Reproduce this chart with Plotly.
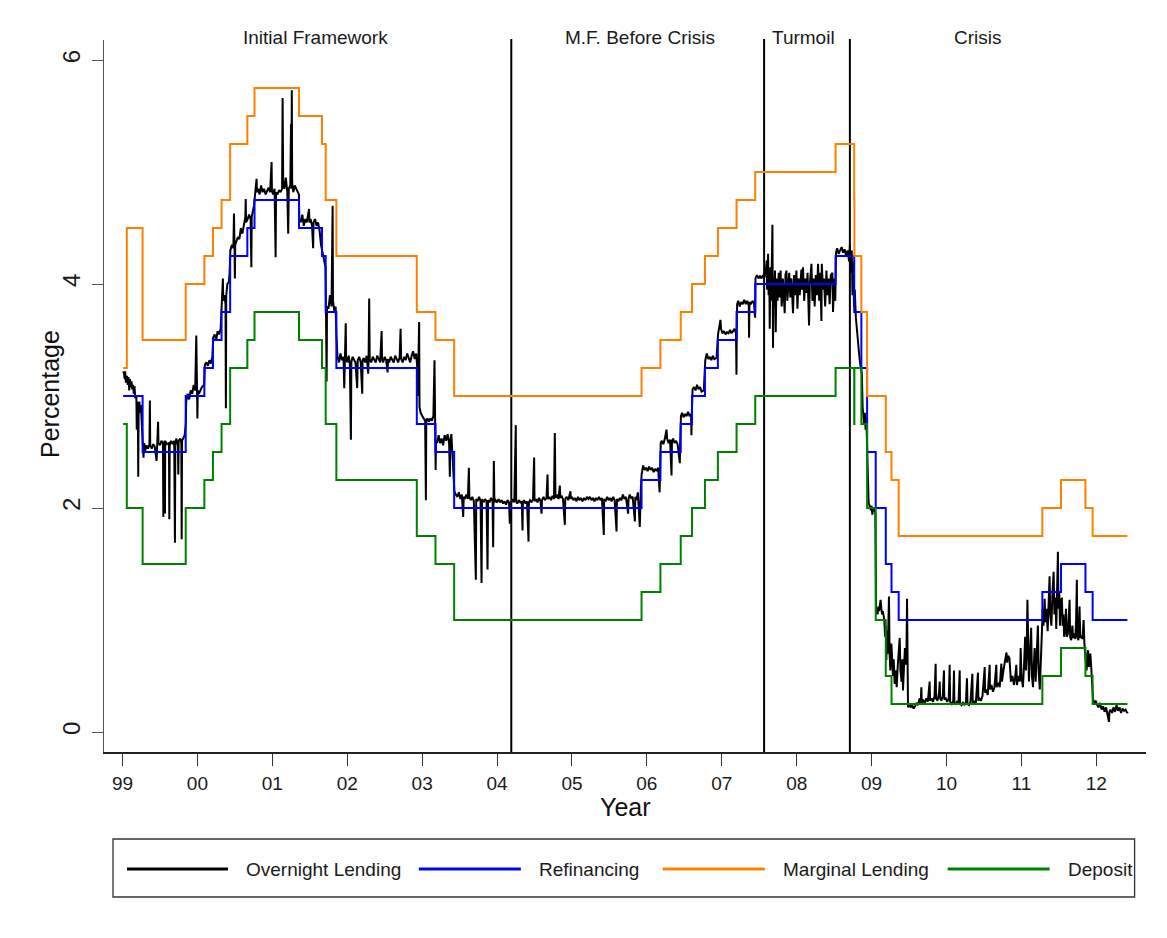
import datetime
import plotly.graph_objects as go

# ---------------- data ----------------
refi_dates = ["1999-01-04", "1999-04-09", "1999-11-05", "2000-02-04", "2000-03-17", "2000-04-28",
              "2000-06-09", "2000-09-01", "2000-10-06", "2001-05-11", "2001-08-31", "2001-09-18",
              "2001-11-09", "2002-12-06", "2003-03-07", "2003-06-06", "2005-12-06", "2006-03-08",
              "2006-06-15", "2006-08-09", "2006-10-11", "2006-12-13", "2007-03-14", "2007-06-13",
              "2008-07-09", "2008-10-08", "2008-11-12", "2008-12-10", "2009-01-21", "2009-03-11",
              "2009-04-08", "2009-05-13", "2011-04-13", "2011-07-13", "2011-11-09", "2011-12-14",
              "2012-06-01"]
refi_rate = [3.00, 2.50, 3.00, 3.25, 3.50, 3.75, 4.25, 4.50, 4.75, 4.50, 4.25, 3.75,
             3.25, 2.75, 2.50, 2.00, 2.25, 2.50, 2.75, 3.00, 3.25, 3.50, 3.75, 4.00,
             4.25, 3.75, 3.25, 2.50, 2.00, 1.50, 1.25, 1.00, 1.25, 1.50, 1.25, 1.00, 1.00]

marg_dates = ["1999-01-04", "1999-01-22", "1999-04-09", "1999-11-05", "2000-02-04", "2000-03-17",
              "2000-04-28", "2000-06-09", "2000-09-01", "2000-10-06", "2001-05-11", "2001-08-31",
              "2001-09-18", "2001-11-09", "2002-12-06", "2003-03-07", "2003-06-06", "2005-12-06",
              "2006-03-08", "2006-06-15", "2006-08-09", "2006-10-11", "2006-12-13", "2007-03-14",
              "2007-06-13", "2008-07-09", "2008-10-08", "2008-10-09", "2008-11-12", "2008-12-10",
              "2009-03-11", "2009-04-08", "2009-05-13", "2011-04-13", "2011-07-13", "2011-11-09",
              "2011-12-14", "2012-06-01"]
marg_rate = [3.25, 4.50, 3.50, 4.00, 4.25, 4.50, 4.75, 5.25, 5.50, 5.75, 5.50, 5.25,
             4.75, 4.25, 3.75, 3.50, 3.00, 3.25, 3.50, 3.75, 4.00, 4.25, 4.50, 4.75,
             5.00, 5.25, 4.75, 4.25, 3.75, 3.00, 2.50, 2.25, 1.75, 2.00, 2.25, 2.00,
             1.75, 1.75]

dep_dates = ["1999-01-04", "1999-01-22", "1999-04-09", "1999-11-05", "2000-02-04", "2000-03-17",
             "2000-04-28", "2000-06-09", "2000-09-01", "2000-10-06", "2001-05-11", "2001-08-31",
             "2001-09-18", "2001-11-09", "2002-12-06", "2003-03-07", "2003-06-06", "2005-12-06",
             "2006-03-08", "2006-06-15", "2006-08-09", "2006-10-11", "2006-12-13", "2007-03-14",
             "2007-06-13", "2008-07-09", "2008-10-08", "2008-10-09", "2008-11-12", "2008-12-10",
             "2009-01-21", "2009-03-11", "2009-04-08", "2011-04-13", "2011-07-13", "2011-11-09",
             "2011-12-14", "2012-06-01"]
dep_rate = [2.75, 2.00, 1.50, 2.00, 2.25, 2.50, 2.75, 3.25, 3.50, 3.75, 3.50, 3.25,
            2.75, 2.25, 1.75, 1.50, 1.00, 1.25, 1.50, 1.75, 2.00, 2.25, 2.50, 2.75,
            3.00, 3.25, 2.75, 3.25, 2.75, 2.00, 1.00, 0.50, 0.25, 0.50, 0.75, 0.50,
            0.25, 0.25]

# overnight rate (year fraction, %)
overnight_1999_2000 = [
    (1999.01, 3.22), (1999.02, 3.20), (1999.03, 3.15), (1999.035, 3.22), (1999.045, 3.12), (1999.06, 3.18),
    (1999.07, 3.10), (1999.08, 3.17), (1999.09, 3.05), (1999.10, 3.15), (1999.11, 3.08), (1999.12, 3.13),
    (1999.13, 3.06), (1999.14, 3.10), (1999.15, 3.02), (1999.16, 3.09), (1999.17, 2.98), (1999.185, 3.00),
    (1999.19, 2.70), (1999.195, 2.95), (1999.205, 2.90), (1999.21, 2.28), (1999.215, 2.85), (1999.225, 2.95),
    (1999.235, 2.85), (1999.245, 2.92), (1999.26, 2.75), (1999.275, 2.55), (1999.28, 2.45), (1999.29, 2.58),
    (1999.30, 2.50), (1999.32, 2.56), (1999.34, 2.53), (1999.36, 2.57), (1999.365, 2.96), (1999.37, 2.56),
    (1999.39, 2.53), (1999.41, 2.57), (1999.43, 2.55), (1999.455, 2.42), (1999.46, 2.56), (1999.475, 2.77),
    (1999.48, 2.58), (1999.50, 2.56), (1999.52, 2.60), (1999.54, 2.58), (1999.545, 1.92), (1999.55, 2.57),
    (1999.565, 2.60), (1999.567, 1.95), (1999.57, 2.60), (1999.59, 2.57), (1999.62, 2.58), (1999.625, 1.90),
    (1999.63, 2.56), (1999.65, 2.60), (1999.67, 2.57), (1999.69, 2.60), (1999.70, 1.69), (1999.705, 2.58),
    (1999.72, 2.62), (1999.74, 2.55), (1999.745, 2.30), (1999.75, 2.60), (1999.77, 2.62), (1999.785, 2.58),
    (1999.79, 1.72), (1999.795, 2.60), (1999.81, 2.62), (1999.83, 2.65), (1999.845, 2.75), (1999.85, 2.95),
    (1999.87, 3.02), (1999.89, 2.97), (1999.91, 3.05), (1999.93, 3.02), (1999.95, 3.10), (1999.97, 3.05),
    (1999.985, 3.54), (1999.99, 3.05), (2000.00, 2.80), (2000.005, 3.05), (2000.02, 3.02), (2000.04, 3.05),
    (2000.06, 3.08), (2000.09, 3.10), (2000.10, 3.28), (2000.12, 3.30), (2000.14, 3.27), (2000.16, 3.32),
    (2000.18, 3.29), (2000.20, 3.35), (2000.21, 3.52), (2000.23, 3.55), (2000.25, 3.50), (2000.27, 3.58),
    (2000.29, 3.55), (2000.31, 3.60), (2000.325, 3.80), (2000.34, 4.05), (2000.345, 3.85), (2000.36, 3.90),
    (2000.375, 3.82), (2000.38, 2.89), (2000.385, 3.90), (2000.40, 4.00), (2000.42, 4.02), (2000.43, 4.10),
    (2000.44, 4.30), (2000.46, 4.35), (2000.48, 4.32), (2000.488, 4.63), (2000.495, 4.35), (2000.50, 4.05),
    (2000.505, 4.35), (2000.52, 4.38), (2000.54, 4.42), (2000.56, 4.40), (2000.58, 4.50), (2000.60, 4.45),
    (2000.62, 4.55), (2000.64, 4.60), (2000.645, 4.76), (2000.65, 4.55), (2000.67, 4.58), (2000.69, 4.62),
    (2000.71, 4.58), (2000.72, 4.15), (2000.725, 4.60), (2000.74, 4.65), (2000.755, 4.70), (2000.77, 4.80),
    (2000.78, 4.85), (2000.79, 4.94), (2000.795, 4.82), (2000.81, 4.85), (2000.83, 4.80), (2000.85, 4.88),
    (2000.87, 4.82), (2000.89, 4.85), (2000.91, 4.80), (2000.93, 4.83), (2000.95, 4.86), (2000.97, 4.82),
    (2000.99, 5.09), (2000.995, 4.83),
]
overnight_2001_2003 = [
    (2001.01, 4.80), (2001.03, 4.85), (2001.044, 4.24), (2001.05, 4.82), (2001.07, 4.80), (2001.09, 4.84),
    (2001.11, 4.82), (2001.13, 4.85), (2001.137, 5.66), (2001.145, 4.90), (2001.16, 4.85), (2001.18, 4.95),
    (2001.20, 4.82), (2001.212, 4.45), (2001.22, 4.85), (2001.24, 4.88), (2001.25, 5.43), (2001.255, 4.85),
    (2001.26, 5.73), (2001.265, 4.90), (2001.28, 4.82), (2001.30, 4.88), (2001.32, 4.85), (2001.34, 4.82),
    (2001.355, 4.80), (2001.36, 4.58), (2001.38, 4.55), (2001.40, 4.62), (2001.42, 4.52), (2001.44, 4.58),
    (2001.46, 4.55), (2001.49, 4.67), (2001.495, 4.55), (2001.51, 4.58), (2001.53, 4.52), (2001.545, 4.32),
    (2001.55, 4.55), (2001.57, 4.58), (2001.59, 4.52), (2001.61, 4.55), (2001.63, 4.48), (2001.65, 4.35),
    (2001.67, 4.28), (2001.69, 4.22), (2001.71, 4.15), (2001.715, 3.85), (2001.725, 3.13), (2001.73, 3.80),
    (2001.75, 3.78), (2001.77, 3.90), (2001.79, 3.80), (2001.805, 4.70), (2001.81, 3.85), (2001.83, 3.75),
    (2001.845, 3.80), (2001.855, 3.55), (2001.87, 3.35), (2001.89, 3.30), (2001.91, 3.38), (2001.93, 3.32),
    (2001.95, 3.35), (2001.96, 3.07), (2001.965, 3.33), (2001.98, 3.65), (2001.985, 3.35), (2002.00, 3.30),
    (2002.02, 3.36), (2002.035, 3.28), (2002.049, 2.61), (2002.055, 3.30), (2002.07, 3.35), (2002.09, 3.32),
    (2002.11, 3.30), (2002.133, 3.07), (2002.14, 3.32), (2002.16, 3.35), (2002.18, 3.30), (2002.20, 3.02),
    (2002.205, 3.32), (2002.22, 3.34), (2002.24, 3.30), (2002.26, 3.36), (2002.28, 3.20), (2002.285, 3.32),
    (2002.293, 3.87), (2002.30, 3.33), (2002.32, 3.30), (2002.34, 3.35), (2002.36, 3.32), (2002.38, 3.30),
    (2002.40, 3.36), (2002.42, 3.32), (2002.44, 3.30), (2002.459, 3.58), (2002.465, 3.33), (2002.48, 3.30),
    (2002.50, 3.35), (2002.52, 3.32), (2002.539, 3.21), (2002.545, 3.33), (2002.56, 3.30), (2002.58, 3.35),
    (2002.60, 3.32), (2002.62, 3.30), (2002.64, 3.36), (2002.66, 3.33), (2002.68, 3.30), (2002.70, 3.35),
    (2002.712, 3.60), (2002.72, 3.33), (2002.74, 3.30), (2002.76, 3.35), (2002.78, 3.32), (2002.80, 3.38),
    (2002.82, 3.33), (2002.84, 3.30), (2002.86, 3.36), (2002.88, 3.40), (2002.90, 3.33), (2002.92, 3.38),
    (2002.935, 3.25), (2002.94, 3.00), (2002.96, 3.66), (2002.965, 2.90), (2002.98, 2.85), (2003.00, 2.82),
    (2003.02, 2.80), (2003.04, 2.78), (2003.05, 2.07), (2003.055, 2.78), (2003.07, 2.80), (2003.09, 2.77),
    (2003.11, 2.80), (2003.13, 2.78), (2003.15, 2.82), (2003.165, 3.32), (2003.17, 2.70), (2003.18, 2.34),
    (2003.185, 2.60), (2003.20, 2.58), (2003.22, 2.65), (2003.24, 2.58), (2003.26, 2.62), (2003.28, 2.56),
    (2003.30, 2.65), (2003.32, 2.60), (2003.34, 2.66), (2003.36, 2.58), (2003.37, 2.28), (2003.375, 2.60),
    (2003.39, 2.66), (2003.40, 2.55), (2003.41, 2.40), (2003.43, 2.15), (2003.45, 2.12), (2003.47, 2.10),
    (2003.49, 2.14), (2003.51, 2.08), (2003.53, 2.12), (2003.548, 1.92), (2003.555, 2.10), (2003.57, 2.08),
    (2003.59, 2.12), (2003.61, 2.08), (2003.624, 2.36), (2003.63, 2.10), (2003.65, 2.07), (2003.67, 2.10),
    (2003.69, 2.06), (2003.717, 1.36), (2003.722, 2.08), (2003.74, 2.06), (2003.76, 2.10), (2003.78, 2.06),
    (2003.793, 1.33), (2003.80, 2.08), (2003.82, 2.05), (2003.84, 2.08), (2003.86, 2.06), (2003.873, 1.45),
    (2003.88, 2.07), (2003.90, 2.05), (2003.92, 2.09), (2003.94, 2.06), (2003.948, 1.65), (2003.955, 2.06),
    (2003.957, 2.42), (2003.965, 2.05), (2003.98, 2.07),
]
overnight_2004_2007 = [
    (2004.00, 2.05), (2004.02, 2.08), (2004.04, 2.05), (2004.06, 2.07), (2004.08, 2.04), (2004.10, 2.06),
    (2004.12, 2.03), (2004.14, 2.07), (2004.16, 2.05), (2004.17, 1.86), (2004.175, 2.04), (2004.19, 2.05),
    (2004.21, 2.08), (2004.23, 2.05), (2004.25, 2.74), (2004.255, 2.06), (2004.27, 2.04), (2004.29, 2.07),
    (2004.31, 2.05), (2004.33, 2.06), (2004.34, 1.80), (2004.345, 2.05), (2004.36, 2.07), (2004.38, 2.04),
    (2004.40, 2.06), (2004.42, 1.70), (2004.425, 2.05), (2004.44, 2.07), (2004.46, 2.05), (2004.48, 2.08),
    (2004.495, 2.45), (2004.50, 2.06), (2004.52, 2.08), (2004.54, 2.05), (2004.56, 2.09), (2004.58, 2.06),
    (2004.594, 1.95), (2004.60, 2.07), (2004.62, 2.10), (2004.64, 2.07), (2004.66, 2.09), (2004.674, 2.30),
    (2004.68, 2.08), (2004.70, 2.10), (2004.72, 2.07), (2004.74, 2.11), (2004.76, 2.08), (2004.771, 2.67),
    (2004.78, 2.09), (2004.80, 2.12), (2004.82, 2.08), (2004.838, 2.20), (2004.845, 2.09), (2004.86, 2.11),
    (2004.88, 2.08), (2004.905, 1.85), (2004.91, 2.08), (2004.93, 2.10), (2004.95, 2.07), (2004.98, 2.15),
    (2004.985, 2.08), (2005.00, 2.10), (2005.02, 2.07), (2005.04, 2.09), (2005.06, 2.06), (2005.08, 2.10),
    (2005.10, 2.07), (2005.12, 2.09), (2005.14, 2.06), (2005.16, 2.09), (2005.18, 2.07), (2005.20, 2.10),
    (2005.22, 2.08), (2005.24, 2.10), (2005.26, 2.07), (2005.28, 2.09), (2005.30, 2.06), (2005.32, 2.09),
    (2005.34, 2.07), (2005.36, 2.10), (2005.38, 2.07), (2005.40, 2.09), (2005.425, 1.76), (2005.43, 2.08),
    (2005.45, 2.06), (2005.47, 2.10), (2005.49, 2.07), (2005.51, 2.09), (2005.53, 2.06), (2005.55, 2.10),
    (2005.57, 2.07), (2005.595, 1.79), (2005.60, 2.08), (2005.62, 2.06), (2005.64, 2.09), (2005.66, 2.07),
    (2005.68, 2.12), (2005.70, 2.08), (2005.72, 2.10), (2005.75, 1.95), (2005.755, 2.08), (2005.77, 2.12),
    (2005.79, 2.09), (2005.81, 2.10), (2005.84, 1.88), (2005.845, 2.10), (2005.86, 2.07), (2005.88, 2.14),
    (2005.905, 1.83), (2005.91, 2.10), (2005.92, 2.18), (2005.93, 2.30), (2005.95, 2.38), (2005.97, 2.34),
    (2005.99, 2.36), (2006.01, 2.33), (2006.03, 2.37), (2006.05, 2.34), (2006.07, 2.36), (2006.09, 2.32),
    (2006.11, 2.35), (2006.13, 2.33), (2006.15, 2.36), (2006.17, 2.14), (2006.175, 2.34), (2006.185, 2.58),
    (2006.20, 2.60), (2006.22, 2.57), (2006.24, 2.62), (2006.262, 2.70), (2006.27, 2.62), (2006.29, 2.58),
    (2006.31, 2.61), (2006.329, 2.29), (2006.335, 2.60), (2006.35, 2.62), (2006.37, 2.58), (2006.39, 2.60),
    (2006.41, 2.57), (2006.44, 2.40), (2006.445, 2.60), (2006.455, 2.82), (2006.47, 2.85), (2006.49, 2.81),
    (2006.51, 2.84), (2006.53, 2.82), (2006.55, 2.86), (2006.57, 2.82), (2006.59, 2.84), (2006.595, 2.65),
    (2006.60, 2.84), (2006.61, 3.06), (2006.63, 3.08), (2006.65, 3.05), (2006.67, 3.10), (2006.69, 3.06),
    (2006.71, 3.08), (2006.73, 3.04), (2006.76, 3.05), (2006.78, 3.32), (2006.80, 3.38), (2006.82, 3.33),
    (2006.84, 3.35), (2006.86, 3.32), (2006.88, 3.36), (2006.90, 3.33), (2006.93, 3.34), (2006.95, 3.55),
    (2006.965, 3.60), (2006.982, 3.68), (2006.99, 3.60), (2007.01, 3.56), (2007.03, 3.58), (2007.05, 3.55),
    (2007.07, 3.57), (2007.09, 3.56), (2007.11, 3.59), (2007.13, 3.56), (2007.15, 3.58), (2007.17, 3.60),
    (2007.19, 3.56), (2007.196, 3.19), (2007.20, 3.60), (2007.205, 3.82), (2007.22, 3.85), (2007.24, 3.80),
    (2007.26, 3.84), (2007.28, 3.82), (2007.30, 3.86), (2007.32, 3.82), (2007.34, 3.85), (2007.36, 3.81),
    (2007.364, 3.52), (2007.37, 3.84), (2007.39, 3.82), (2007.41, 3.85), (2007.43, 3.83), (2007.445, 3.70),
    (2007.45, 4.05), (2007.47, 4.08), (2007.49, 4.05), (2007.51, 4.07), (2007.53, 4.05), (2007.55, 4.08),
    (2007.57, 4.06),
]
overnight_2007_2009 = [
    (2007.585, 4.10), (2007.60, 4.21), (2007.605, 3.95), (2007.618, 4.27), (2007.625, 3.90), (2007.635, 4.05),
    (2007.640, 3.60), (2007.649, 4.15), (2007.66, 3.85), (2007.676, 4.53), (2007.680, 3.90), (2007.684, 3.43),
    (2007.69, 4.05), (2007.70, 3.80), (2007.71, 4.12), (2007.720, 3.57), (2007.73, 4.05), (2007.745, 3.85),
    (2007.76, 4.10), (2007.774, 3.88), (2007.785, 4.12), (2007.80, 3.80), (2007.815, 4.05), (2007.83, 3.90),
    (2007.840, 3.74), (2007.85, 4.08), (2007.863, 4.12), (2007.875, 3.85), (2007.884, 3.95), (2007.90, 4.10),
    (2007.915, 3.88), (2007.93, 4.05), (2007.951, 3.74), (2007.965, 4.08), (2007.98, 3.90), (2007.996, 4.12),
    (2008.01, 3.78), (2008.025, 4.05), (2008.04, 3.90), (2008.063, 4.13), (2008.07, 3.95), (2008.084, 4.15),
    (2008.10, 3.85), (2008.115, 4.05), (2008.13, 3.92), (2008.145, 4.10), (2008.165, 3.63), (2008.175, 4.00),
    (2008.197, 4.18), (2008.21, 3.85), (2008.225, 4.05), (2008.24, 3.80), (2008.255, 4.08), (2008.27, 3.90),
    (2008.285, 4.18), (2008.30, 3.85), (2008.315, 4.10), (2008.330, 3.67), (2008.335, 4.18), (2008.35, 3.95),
    (2008.365, 4.05), (2008.38, 3.80), (2008.397, 4.12), (2008.41, 3.90), (2008.425, 4.05), (2008.44, 3.82),
    (2008.455, 4.08), (2008.477, 4.10), (2008.485, 3.75), (2008.50, 4.05), (2008.515, 3.85), (2008.525, 4.28),
    (2008.54, 4.32), (2008.56, 4.27), (2008.58, 4.30), (2008.60, 4.33), (2008.62, 4.28), (2008.64, 4.31),
    (2008.66, 4.25), (2008.68, 4.30), (2008.70, 4.20), (2008.71, 4.35), (2008.72, 4.10), (2008.735, 4.30),
    (2008.745, 3.90), (2008.755, 4.20), (2008.765, 3.80), (2008.775, 3.95), (2008.79, 3.70), (2008.80, 3.60),
    (2008.815, 3.50), (2008.83, 3.40), (2008.845, 3.30), (2008.86, 3.25), (2008.87, 3.20), (2008.88, 2.90),
    (2008.89, 2.82), (2008.90, 2.75), (2008.91, 2.85), (2008.92, 2.70), (2008.93, 2.80), (2008.94, 2.55),
    (2008.95, 2.30), (2008.96, 2.05), (2008.98, 2.00), (2008.99, 1.98), (2009.00, 2.02), (2009.01, 1.94),
    (2009.02, 2.00), (2009.03, 1.97), (2009.04, 2.00), (2009.05, 1.95), (2009.06, 1.05), (2009.07, 1.10),
    (2009.08, 1.05), (2009.09, 1.12), (2009.10, 1.08), (2009.11, 1.15), (2009.12, 1.18), (2009.13, 1.10),
    (2009.14, 1.05), (2009.15, 1.08), (2009.16, 1.02), (2009.17, 1.00), (2009.18, 0.85), (2009.19, 0.95),
    (2009.197, 0.64), (2009.205, 0.90), (2009.215, 0.70), (2009.225, 0.95), (2009.232, 1.21), (2009.24, 0.70),
    (2009.25, 0.55), (2009.264, 0.79), (2009.275, 0.60), (2009.285, 0.50), (2009.295, 0.65), (2009.308, 0.43),
    (2009.32, 0.55), (2009.335, 0.40), (2009.35, 0.60), (2009.365, 0.75), (2009.375, 0.84), (2009.385, 0.55),
    (2009.40, 0.45), (2009.41, 0.65), (2009.419, 0.37), (2009.43, 0.55), (2009.445, 0.75), (2009.455, 0.60),
    (2009.465, 0.70), (2009.473, 1.19), (2009.478, 0.40), (2009.486, 0.22),
]
overnight_2009_2012 = [
    (2009.50, 0.25), (2009.52, 0.22), (2009.54, 0.24), (2009.56, 0.21), (2009.58, 0.23), (2009.60, 0.26),
    (2009.62, 0.24), (2009.64, 0.30), (2009.655, 0.25), (2009.664, 0.40), (2009.67, 0.26), (2009.69, 0.28),
    (2009.71, 0.26), (2009.73, 0.30), (2009.75, 0.27), (2009.765, 0.35), (2009.775, 0.45), (2009.78, 0.28),
    (2009.80, 0.30), (2009.82, 0.27), (2009.84, 0.32), (2009.855, 0.61), (2009.86, 0.30), (2009.88, 0.28),
    (2009.90, 0.35), (2009.909, 0.45), (2009.915, 0.30), (2009.93, 0.28), (2009.95, 0.32), (2009.966, 0.55),
    (2009.97, 0.29), (2009.99, 0.30), (2010.01, 0.27), (2010.03, 0.30), (2010.042, 0.60), (2010.048, 0.27),
    (2010.07, 0.25), (2010.09, 0.28), (2010.10, 0.55), (2010.105, 0.26), (2010.12, 0.25), (2010.14, 0.27),
    (2010.16, 0.25), (2010.176, 0.55), (2010.18, 0.26), (2010.20, 0.24), (2010.22, 0.26), (2010.24, 0.24),
    (2010.26, 0.27), (2010.273, 0.48), (2010.28, 0.25), (2010.30, 0.24), (2010.32, 0.27), (2010.345, 0.52),
    (2010.35, 0.25), (2010.37, 0.27), (2010.39, 0.25), (2010.42, 0.53), (2010.425, 0.28), (2010.44, 0.30),
    (2010.46, 0.28), (2010.48, 0.32), (2010.51, 0.58), (2010.515, 0.35), (2010.53, 0.38), (2010.55, 0.33),
    (2010.576, 0.60), (2010.58, 0.38), (2010.60, 0.42), (2010.62, 0.36), (2010.64, 0.40), (2010.665, 0.60),
    (2010.67, 0.40), (2010.69, 0.44), (2010.71, 0.40), (2010.732, 0.61), (2010.74, 0.45), (2010.76, 0.55),
    (2010.78, 0.62), (2010.80, 0.71), (2010.81, 0.62), (2010.82, 0.68), (2010.84, 0.66), (2010.85, 0.55),
    (2010.86, 0.45), (2010.88, 0.50), (2010.90, 0.42), (2010.915, 0.48), (2010.932, 0.60), (2010.94, 0.42),
    (2010.96, 0.50), (2010.98, 0.45), (2010.99, 0.75), (2011.00, 0.50), (2011.02, 0.40), (2011.035, 0.60),
    (2011.05, 0.85), (2011.06, 0.55), (2011.07, 0.70), (2011.08, 1.18), (2011.09, 0.60), (2011.10, 0.45),
    (2011.115, 0.70), (2011.13, 0.93), (2011.14, 0.50), (2011.155, 0.40), (2011.165, 0.60), (2011.177, 0.75),
    (2011.19, 0.45), (2011.20, 0.60), (2011.22, 0.95), (2011.23, 0.55), (2011.245, 0.38), (2011.26, 0.65),
    (2011.275, 0.90), (2011.285, 1.10), (2011.295, 0.95), (2011.31, 1.19), (2011.32, 0.98), (2011.335, 1.10),
    (2011.35, 0.90), (2011.36, 1.20), (2011.376, 1.39), (2011.385, 1.05), (2011.40, 0.95), (2011.415, 1.25),
    (2011.43, 1.43), (2011.44, 1.05), (2011.455, 1.20), (2011.465, 0.92), (2011.475, 1.30), (2011.487, 1.61),
    (2011.495, 1.10), (2011.505, 1.25), (2011.515, 0.95), (2011.525, 1.15), (2011.54, 1.20), (2011.55, 0.95),
    (2011.56, 1.05), (2011.57, 0.85), (2011.58, 0.90), (2011.595, 1.10), (2011.605, 0.85), (2011.62, 0.88),
    (2011.63, 1.00), (2011.643, 1.18), (2011.65, 0.85), (2011.665, 0.82), (2011.68, 0.95), (2011.69, 0.84),
    (2011.705, 0.88), (2011.72, 0.83), (2011.73, 1.00), (2011.74, 1.36), (2011.745, 0.86), (2011.76, 0.82),
    (2011.776, 1.12), (2011.785, 0.84), (2011.80, 0.86), (2011.815, 0.83), (2011.83, 1.00), (2011.84, 0.80),
    (2011.86, 0.62), (2011.87, 0.55), (2011.88, 0.70), (2011.89, 0.73), (2011.90, 0.58), (2011.91, 0.65),
    (2011.92, 0.70), (2011.93, 0.60), (2011.94, 0.45), (2011.955, 0.30), (2011.97, 0.25), (2011.99, 0.28),
    (2012.01, 0.24), (2012.03, 0.22), (2012.05, 0.26), (2012.07, 0.20), (2012.09, 0.23), (2012.11, 0.18),
    (2012.13, 0.22), (2012.15, 0.15), (2012.168, 0.09), (2012.175, 0.18), (2012.19, 0.20), (2012.21, 0.17),
    (2012.23, 0.22), (2012.25, 0.18), (2012.27, 0.24), (2012.29, 0.19), (2012.31, 0.22), (2012.33, 0.17),
    (2012.35, 0.21), (2012.37, 0.19), (2012.39, 0.20), (2012.41, 0.17), (2012.42, 0.18),
]

period_breaks = [2004.19, 2007.565, 2008.71]
period_labels = ["Initial Framework", "M.F. Before Crisis", "Turmoil", "Crisis"]
period_label_x = [2001.58, 2005.905, 2008.094, 2010.416]

year_ticks = list(range(1999, 2013))
year_labels = ["99", "00", "01", "02", "03", "04", "05", "06", "07", "08", "09", "10", "11", "12"]
y_ticks = [0, 2, 4, 6]

series_names = ["Overnight Lending", "Refinancing", "Marginal Lending", "Deposit"]
series_colors = ["#000000", "#0000ff", "#ff8000", "#008000"]

# ---------------- helpers ----------------
def year_frac(s):
    d = datetime.date.fromisoformat(s)
    a = datetime.date(d.year, 1, 1)
    b = datetime.date(d.year + 1, 1, 1)
    return d.year + (d - a).days / (b - a).days

overnight = (overnight_1999_2000 + overnight_2001_2003 + overnight_2004_2007
             + overnight_2007_2009 + overnight_2009_2012)
on_x = [p[0] for p in overnight]
on_y = [p[1] for p in overnight]

FONT = "Liberation Sans, Arial, Helvetica, sans-serif"

# page geometry (browser body has an 8px margin)
PAGE_OFF = 8
PLOT_L, PLOT_R, PLOT_T, PLOT_B = 104, 1146.4, 40, 752
W, H = 1167 - PAGE_OFF, 938 - PAGE_OFF

def px(xp):
    return (xp - PLOT_L) / (PLOT_R - PLOT_L)

def py(yp):
    return (PLOT_B - yp) / (PLOT_B - PLOT_T)

fig = go.Figure()
fig.add_trace(go.Scatter(x=on_x, y=on_y, mode="lines", name=series_names[0],
                         line=dict(color=series_colors[0], width=2), showlegend=False))
for name, color, dates, vals in [
    (series_names[1], series_colors[1], refi_dates, refi_rate),
    (series_names[2], series_colors[2], marg_dates, marg_rate),
    (series_names[3], series_colors[3], dep_dates, dep_rate),
]:
    fig.add_trace(go.Scatter(x=[year_frac(d) for d in dates], y=vals, mode="lines", name=name,
                             line=dict(color=color, width=2, shape="hv"), showlegend=False))

shapes = []
for xb in period_breaks:
    shapes.append(dict(type="line", xref="x", yref="paper", x0=xb, x1=xb, y0=0, y1=py(39),
                       line=dict(color="#000000", width=2), layer="below"))

annotations = []
for lab, xl in zip(period_labels, period_label_x):
    annotations.append(dict(text=lab, x=xl, xref="x", y=py(38), yref="paper", showarrow=False,
                            xanchor="center", yanchor="middle",
                            font=dict(family=FONT, size=19, color="#1a1a1a")))

annotations.append(dict(text="Percentage", x=px(50), y=py(394), xref="paper", yref="paper",
                        showarrow=False, textangle=-90, xanchor="center", yanchor="middle",
                        font=dict(family=FONT, size=25, color="#111111")))
annotations.append(dict(text="Year", x=px(626), y=py(807), xref="paper", yref="paper",
                        showarrow=False, xanchor="center", yanchor="middle",
                        font=dict(family=FONT, size=25, color="#111111")))

# legend box (drawn by hand to match the long line samples)
shapes.append(dict(type="rect", xref="paper", yref="paper", x0=px(113), x1=px(1135),
                   y0=py(897), y1=py(839), line=dict(color="#333333", width=1.3),
                   fillcolor="rgba(0,0,0,0)"))
leg_line_px = [(127, 228), (419, 521), (663, 765), (948, 1050)]
leg_text_px = [244, 537, 781, 1066]
for name, color, (a, b), tx in zip(series_names, series_colors, leg_line_px, leg_text_px):
    shapes.append(dict(type="line", xref="paper", yref="paper", x0=px(a), x1=px(b),
                       y0=py(869), y1=py(869), line=dict(color=color, width=3)))
    annotations.append(dict(text=name, x=px(tx), y=py(869), xref="paper", yref="paper",
                            showarrow=False, xanchor="left", yanchor="middle",
                            font=dict(family=FONT, size=19, color="#1a1a1a")))

fig.update_layout(
    width=W, height=H,
    margin=dict(l=PLOT_L - PAGE_OFF, r=1167 - PLOT_R, t=PLOT_T - PAGE_OFF, b=H + PAGE_OFF - PLOT_B,
                autoexpand=False),
    paper_bgcolor="white", plot_bgcolor="white",
    font=dict(family=FONT, color="#1a1a1a"),
    shapes=shapes, annotations=annotations,
    showlegend=False,
)
fig.update_xaxes(range=[1998.753, 2012.663], tickmode="array", tickvals=year_ticks, ticktext=year_labels,
                 ticks="outside", ticklen=12, tickwidth=1.3, tickcolor="#333333",
                 showline=True, linecolor="#222222", linewidth=1.5, showgrid=False, zeroline=False,
                 tickfont=dict(family=FONT, size=19, color="#1a1a1a"), ticklabelstandoff=1)
fig.update_yaxes(range=[-0.1786, 6.179], tickmode="array", tickvals=y_ticks,
                 ticks="outside", ticklen=11, tickwidth=1.3, tickcolor="#555555",
                 showline=True, linecolor="#555555", linewidth=1.3, showgrid=False, zeroline=False,
                 tickangle=-90, tickfont=dict(family=FONT, size=24, color="#1a1a1a"),
                 ticklabelstandoff=2)

fig.write_html("out.html")
